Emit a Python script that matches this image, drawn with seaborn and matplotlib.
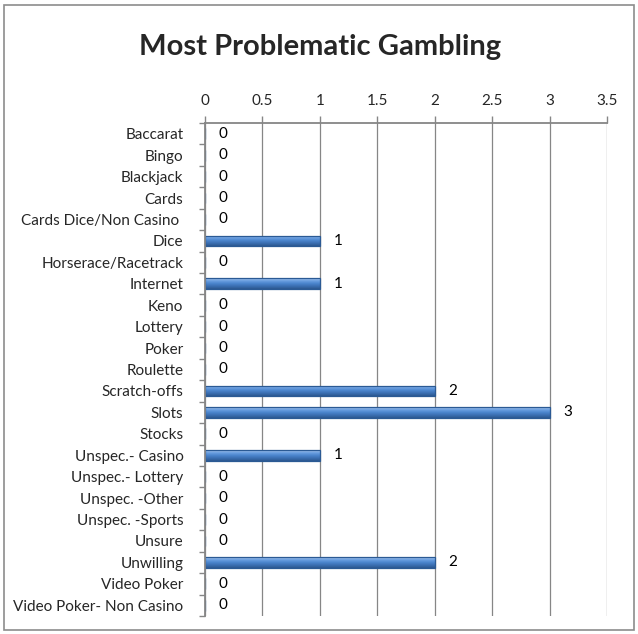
import pandas as pd
import matplotlib
matplotlib.use('Agg')
import matplotlib.pyplot as plt
import seaborn as sns
from matplotlib.ticker import FixedLocator
from matplotlib.colors import LinearSegmentedColormap
import numpy as np

categories = ['Baccarat', 'Bingo', 'Blackjack', 'Cards', 'Cards Dice/Non Casino ',
              'Dice', 'Horserace/Racetrack', 'Internet', 'Keno', 'Lottery', 'Poker',
              'Roulette', 'Scratch-offs', 'Slots', 'Stocks', 'Unspec.- Casino',
              'Unspec.- Lottery', 'Unspec. -Other', 'Unspec. -Sports', 'Unsure',
              'Unwilling', 'Video Poker', 'Video Poker- Non Casino']
counts = [0, 0, 0, 0, 0, 1, 0, 1, 0, 0, 0, 0, 2, 3, 0, 1, 0, 0, 0, 0, 2, 0, 0]
tick_labels = ['0', '0.5', '1', '1.5', '2', '2.5', '3', '3.5']

df = pd.DataFrame({'Gambling': categories, 'Count': counts})

sns.set_style('white')
plt.rcParams['font.family'] = ['Lato', 'DejaVu Sans']

grid_col = '#868686'
bar_cmap = LinearSegmentedColormap.from_list(
    'bar', ['#a9c8ee', '#6a9ee0', '#4a84cc', '#3a6eb0', '#2c5890'])

fig = plt.figure(figsize=(6.38, 6.34), dpi=100)
ax = fig.add_axes([0.3213, 0.0284, 0.6301, 0.7776])

sns.barplot(data=df, x='Count', y='Gambling', orient='h', color='#4F81BD',
            edgecolor='#2B5A94', linewidth=0.9, width=0.5, saturation=1, ax=ax)

# gradient fill for each bar, clipped to the bar shape
grad = np.linspace(0, 1, 64).reshape(-1, 1)
for patch in ax.patches:
    w = patch.get_width()
    if w <= 0:
        continue
    x0, y0, h = patch.get_x(), patch.get_y(), patch.get_height()
    im = ax.imshow(grad, cmap=bar_cmap, aspect='auto', origin='upper',
                   extent=(x0, x0 + w, y0 + h, y0), zorder=1.5)
    im.set_clip_path(patch)
    patch.set_facecolor('none')
    patch.set_zorder(2)

# data labels
for i, v in enumerate(counts):
    ax.annotate(str(v), xy=(v, i), xytext=(10, 0), textcoords='offset points',
                va='center', ha='left', fontsize=11, color='black')

ax.set_xlim(0, 3.5)
ax.set_ylim(len(categories) - 0.5, -0.5)
ax.xaxis.tick_top()
ax.set_xticks(np.arange(0, 3.51, 0.5))
ax.set_xticklabels(tick_labels)
ax.tick_params(axis='x', which='major', top=True, bottom=False, length=5,
               width=1, color=grid_col, labelsize=11, pad=6)
ax.grid(axis='x', color=grid_col, linewidth=0.9)
ax.set_axisbelow(True)

ax.yaxis.set_minor_locator(FixedLocator(np.arange(-0.5, len(categories), 1)))
ax.tick_params(axis='y', which='major', left=False, labelsize=11, pad=12)
ax.tick_params(axis='y', which='minor', left=True, length=4, width=1, color=grid_col)
ax.set_xlabel('')
ax.set_ylabel('')

for side in ['right', 'bottom']:
    ax.spines[side].set_visible(False)
for side in ['left', 'top']:
    ax.spines[side].set_color(grid_col)
    ax.spines[side].set_linewidth(1.3)

fig.text(0.5016, 0.926, 'Most Problematic Gambling', ha='center', va='center',
         fontsize=21, fontweight='bold')

# outer chart border
fig.patches.append(plt.Rectangle((0.006, 0.006), 0.988, 0.986, transform=fig.transFigure,
                                 fill=False, edgecolor='#8c8c8c', linewidth=1.2))

fig.savefig('out.png', dpi=100)
